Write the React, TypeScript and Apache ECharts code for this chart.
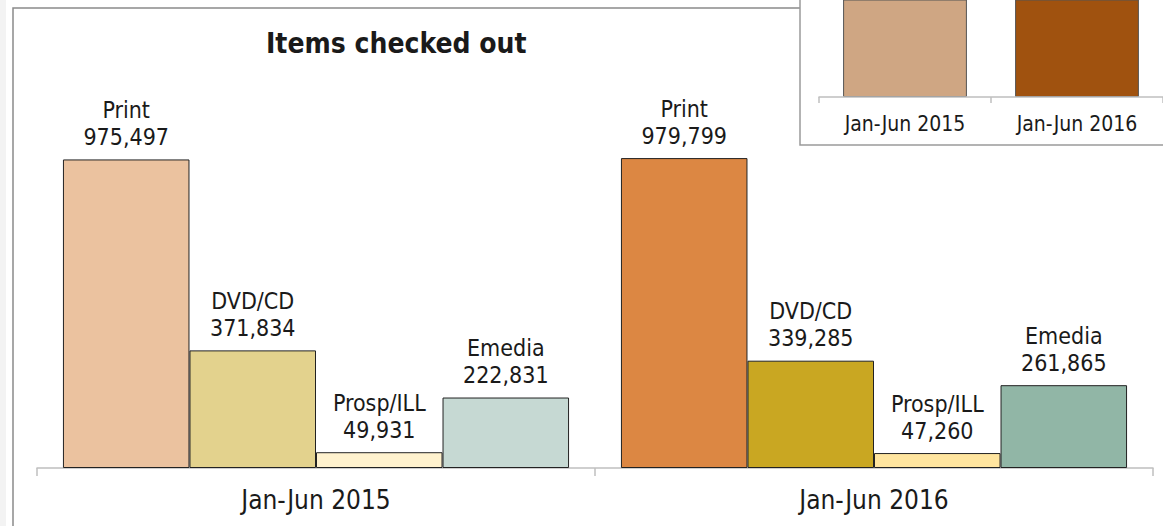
import React, { useEffect, useRef } from "react";
import * as echarts from "echarts";

const periods = ["Jan-Jun 2015", "Jan-Jun 2016"];
const printValues = [975497, 979799];
const dvdValues = [371834, 339285];
const prospValues = [49931, 47260];
const emediaValues = [222831, 261865];
const insetTotals = [1620093, 1628209];

const printColors = ["#EBC29F", "#DC8743"];
const dvdColors = ["#E3D28D", "#C9A722"];
const prospColors = ["#FFF2CE", "#FFE59F"];
const emediaColors = ["#C6D9D3", "#91B6A6"];
const insetColors = ["#CFA683", "#A0520F"];

const FONT = "'DejaVu Sans Condensed', 'DejaVu Sans', sans-serif";
const TEXT = "#1a1a1a";

function fmt(v: number) {
  return v.toLocaleString("en-US");
}

function mainSeries(name: string, values: number[], colors: string[]) {
  return {
    type: "bar",
    name,
    xAxisIndex: 0,
    yAxisIndex: 0,
    barGap: "0%",
    barCategoryGap: "9.3%",
    z: 2,
    data: values.map((v, i) => ({
      value: v,
      itemStyle: { color: colors[i], borderColor: "#222", borderWidth: 1 },
    })),
    label: {
      show: true,
      position: "top",
      distance: 9,
      fontFamily: FONT,
      fontSize: 23,
      lineHeight: 27,
      color: TEXT,
      align: "center",
      formatter: (p: any) => `${p.seriesName}\n${fmt(p.value)}`,
    },
  };
}

export default function App() {
  const ref = useRef<HTMLDivElement>(null);
  useEffect(() => {
    if (!ref.current) return;
    const chart = echarts.init(ref.current, undefined, { renderer: "svg" });
    chart.setOption({
      animation: false,
      backgroundColor: "#ffffff",
      grid: [
        { left: 37, width: 1116, top: 151.7, bottom: 58, containLabel: false },
        { left: 819, width: 352, top: 0, height: 97, containLabel: false },
      ],
      xAxis: [
        {
          type: "category",
          gridIndex: 0,
          data: periods,
          axisLine: { lineStyle: { color: "#bfbfbf", width: 1.5 } },
          axisTick: { show: true, length: 8, lineStyle: { color: "#bfbfbf", width: 1.5 } },
          axisLabel: { fontFamily: FONT, fontSize: 26, color: TEXT, margin: 19 },
        },
        {
          type: "category",
          gridIndex: 1,
          data: periods,
          z: 12,
          axisLine: { lineStyle: { color: "#bfbfbf", width: 1.5 } },
          axisTick: { show: true, length: 6, lineStyle: { color: "#bfbfbf", width: 1.5 } },
          axisLabel: { fontFamily: FONT, fontSize: 21, color: TEXT, margin: 16 },
        },
      ],
      yAxis: [
        { type: "value", gridIndex: 0, min: 0, max: 1000000, show: false },
        { type: "value", gridIndex: 1, min: 0, max: 1000000, show: false },
      ],
      graphic: [
        {
          type: "rect",
          z: -10,
          shape: { x: 0, y: 0, width: 6, height: 526 },
          style: { fill: "#f3f3f3" },
        },
        {
          type: "rect",
          z: -5,
          shape: { x: 13, y: 8, width: 1300, height: 700 },
          style: { fill: "#ffffff", stroke: "#8a8a8a", lineWidth: 1.5 },
        },
        {
          type: "text",
          z: 5,
          x: 266,
          y: 43,
          style: {
            text: "Items checked out",
            fontFamily: FONT,
            fontSize: 28,
            fontWeight: "bold",
            fill: TEXT,
            textAlign: "left",
            textVerticalAlign: "middle",
          },
        },
        {
          type: "rect",
          z: 10,
          shape: { x: 800, y: -20, width: 500, height: 165 },
          style: { fill: "#ffffff", stroke: "#9a9a9a", lineWidth: 1.5 },
        },
      ],
      series: [
        mainSeries("Print", printValues, printColors),
        mainSeries("DVD/CD", dvdValues, dvdColors),
        mainSeries("Prosp/ILL", prospValues, prospColors),
        mainSeries("Emedia", emediaValues, emediaColors),
        {
          type: "bar",
          name: "Total",
          xAxisIndex: 1,
          yAxisIndex: 1,
          barCategoryGap: "28%",
          z: 11,
          clip: true,
          data: insetTotals.map((v, i) => ({
            value: v,
            itemStyle: { color: insetColors[i], borderColor: "#555", borderWidth: 1 },
          })),
        },
      ],
    });
    return () => chart.dispose();
  }, []);
  return (
    <div
      ref={ref}
      style={{ position: "fixed", left: 0, top: 0, width: 1163, height: 526 }}
    />
  );
}
